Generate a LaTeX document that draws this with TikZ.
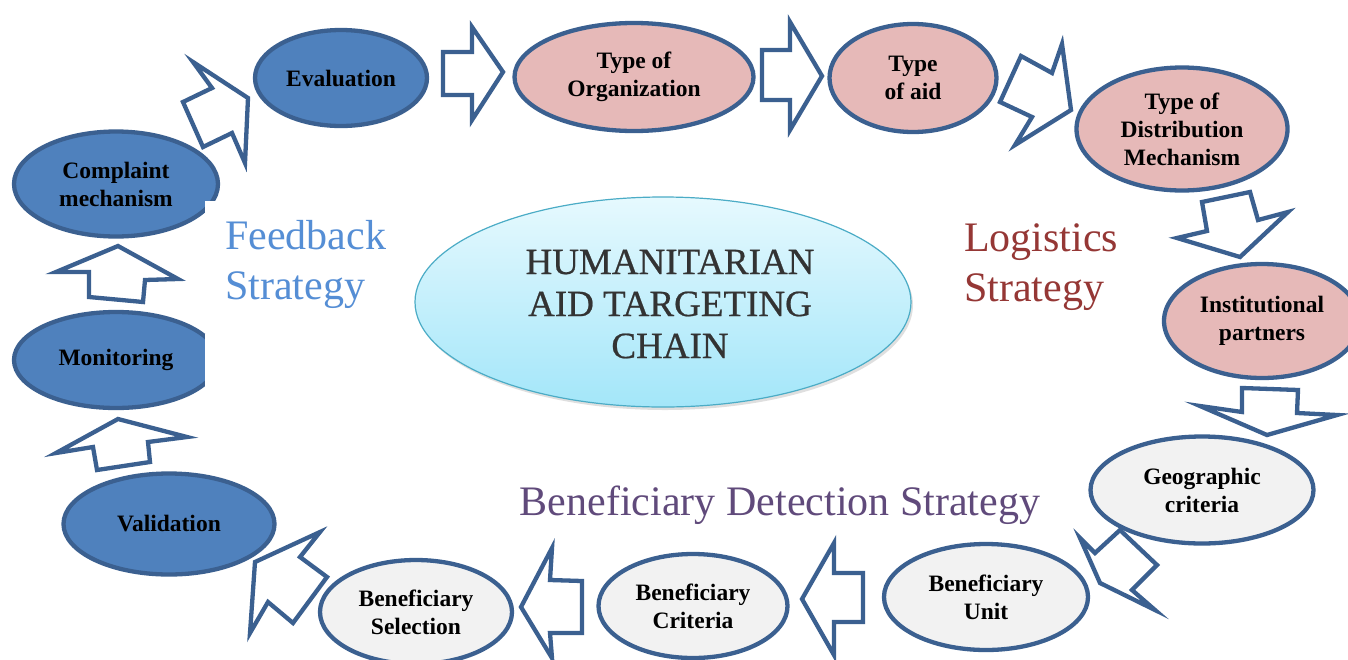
\documentclass[tikz,border=0pt]{standalone}
\usepackage{fontspec}
\setmainfont{Liberation Serif}
\usetikzlibrary{shapes.geometric,shadows}
\definecolor{edgeblue}{HTML}{3B6090}
\definecolor{nodeblue}{HTML}{4F81BD}
\definecolor{nodepink}{HTML}{E6B9B8}
\definecolor{nodegray}{HTML}{F2F2F2}
\definecolor{fbblue}{HTML}{558ED5}
\definecolor{logred}{HTML}{953735}
\definecolor{benpurple}{HTML}{604A7B}
\definecolor{cyanedge}{HTML}{4BACC6}
\definecolor{cyantop}{HTML}{E6F9FE}
\definecolor{cyanbot}{HTML}{A3E6F9}
\definecolor{titlegray}{HTML}{333333}
\tikzset{
  stage/.style={ellipse, draw=edgeblue, line width=4.3pt, inner sep=0pt, align=center,
                font=\fontsize{23.5}{28}\selectfont\bfseries},
  bluestage/.style={stage, fill=nodeblue},
  pinkstage/.style={stage, fill=nodepink},
  graystage/.style={stage, fill=nodegray},
  blockarrow/.style={draw=edgeblue, fill=white, line width=4.3pt, line join=miter},
  strategy/.style={align=left, font=\fontsize{42}{50}\selectfont, inner sep=0pt, anchor=west},
}
\begin{document}
\begin{tikzpicture}[x=1pt,y=-1pt]
\useasboundingbox (0,0) rectangle (1348,659);
\fill[white] (0,0) rectangle (1348,659);

% block arrows (drawn first, ellipses overlap them)
\draw[blockarrow] (248,98) -- (193,62) -- (212,88) -- (183,102) -- (203,147) -- (232,133) -- (245,163) -- cycle;
\draw[blockarrow] (503,72) -- (472,27) -- (472,52) -- (443,52) -- (443,95) -- (472,95) -- (472,120) -- cycle;
\draw[blockarrow] (822,76) -- (790,22) -- (790,50) -- (762,50) -- (762,100) -- (790,100) -- (790,130) -- cycle;
\draw[blockarrow] (1071,110) -- (1062,44) -- (1052,73) -- (1021,56) -- (1000,102) -- (1032,117) -- (1015,145) -- cycle;
\draw[blockarrow] (1240,257) -- (1288,212) -- (1258,220) -- (1250,192) -- (1202,202) -- (1207,231) -- (1177,238) -- cycle;
\draw[blockarrow] (1267,435) -- (1337,415) -- (1297,413) -- (1298,390) -- (1242,388) -- (1242,412) -- (1200,406) -- cycle;
\draw[blockarrow] (1100,583) -- (1155,610) -- (1132,590) -- (1157,565) -- (1120,530) -- (1095,553) -- (1080,538) -- cycle;
\draw[blockarrow] (802,599) -- (834,543) -- (834,573) -- (863,573) -- (863,622) -- (834,622) -- (834,655) -- cycle;
\draw[blockarrow] (521,607) -- (552,548) -- (550,580) -- (582,581) -- (582,633) -- (550,633) -- (552,658) -- cycle;
\draw[blockarrow] (255,562) -- (320,532) -- (300,557) -- (327,577) -- (293,623) -- (268,602) -- (250,633) -- cycle;
\draw[blockarrow] (118,419) -- (187,437) -- (148,442) -- (150,462) -- (97,470) -- (93,447) -- (56,453) -- cycle;
\draw[blockarrow] (118,246) -- (178,279) -- (145,280) -- (143,302) -- (89,297) -- (89,272) -- (56,272) -- cycle;

% stages
\node[bluestage, minimum width=172pt, minimum height=96pt] (eval) at (341,78) {Evaluation};
\node[pinkstage, minimum width=239pt, minimum height=108pt] (org) at (634,77) {Type of\\Organization};
\node[pinkstage, minimum width=167pt, minimum height=108pt] (aid) at (913,78) {Type\\of aid};
\node[pinkstage, minimum width=211pt, minimum height=123pt] (dist) at (1182,129) {Type of\\Distribution\\Mechanism};
\node[pinkstage, minimum width=196pt, minimum height=114pt] (inst) at (1262,321) {Institutional\\partners};
\node[graystage, minimum width=223pt, minimum height=107pt] (geo) at (1202,490) {Geographic\\criteria};
\node[graystage, minimum width=204pt, minimum height=106pt] (unit) at (986,597) {Beneficiary\\Unit};
\node[graystage, minimum width=189pt, minimum height=104pt] (crit) at (693,606) {Beneficiary\\Criteria};
\node[graystage, minimum width=192pt, minimum height=104pt] (sel) at (416,612) {Beneficiary\\Selection};
\node[bluestage, minimum width=211pt, minimum height=101pt] (valid) at (169,524) {Validation};
\node[bluestage, minimum width=204pt, minimum height=96pt] (monit) at (116,360) {Monitoring};
\node[bluestage, minimum width=204pt, minimum height=105pt] (compl) at (116,184) {Complaint\\mechanism};

% white box edges cutting the left ellipses
\fill[white] (205,201) rectangle (226,245);
\fill[white] (205,334) rectangle (226,415);

% centre
\node[ellipse, draw=cyanedge, line width=1.2pt, top color=cyantop, bottom color=cyanbot,
      minimum width=496pt, minimum height=210pt,
      drop shadow={shadow xshift=2pt, shadow yshift=-3pt, opacity=0.25}] (hub) at (663,302) {};
\node[align=center, text=titlegray, font=\fontsize{37}{42}\selectfont\addfontfeature{FakeBold=0.6}] (hubtext) at (670,304)
  {HUMANITARIAN\\AID TARGETING\\CHAIN};

% strategy labels
\node[strategy, text=fbblue] (fb) at (225,264) {Feedback\\Strategy};
\node[strategy, text=logred] (lg) at (964,267) {Logistics\\Strategy};
\node[font=\fontsize{42}{50}\selectfont, inner sep=0pt, text=benpurple] (bd) at (780,505) {Beneficiary Detection Strategy};
\end{tikzpicture}
\end{document}
